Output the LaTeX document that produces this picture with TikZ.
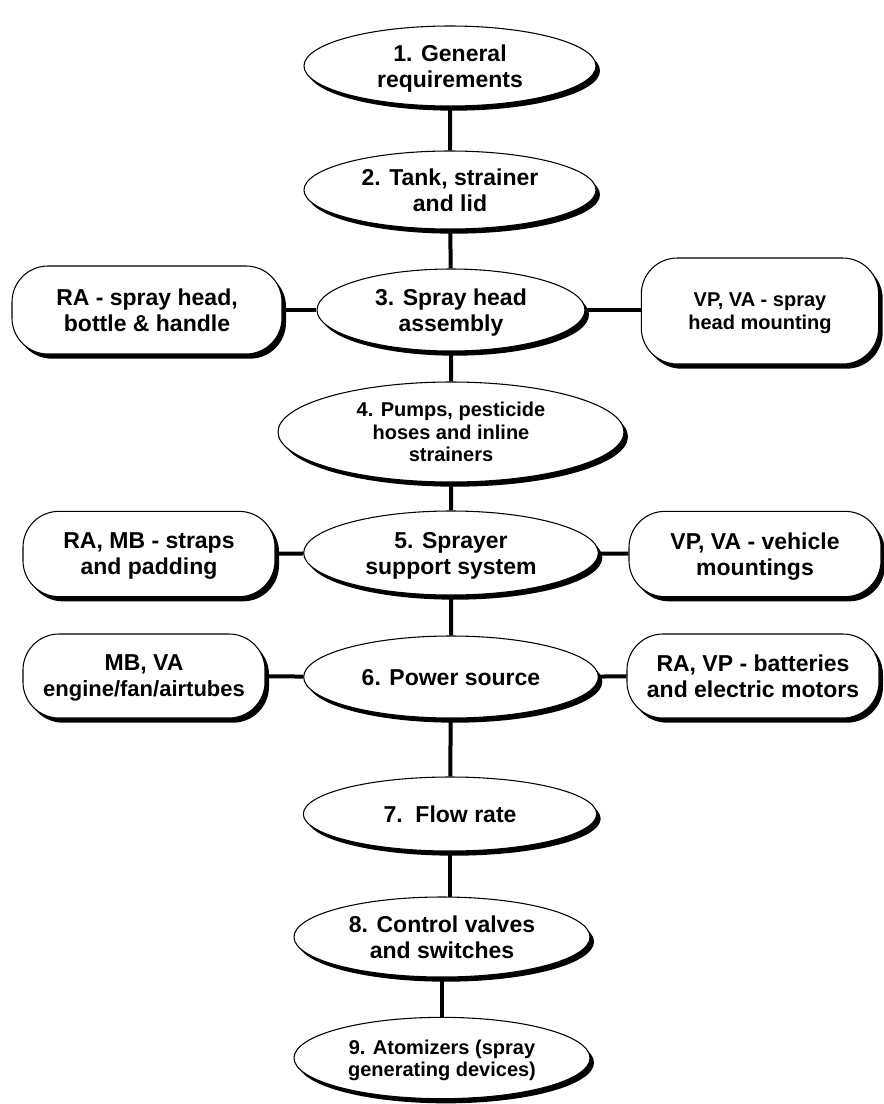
\documentclass[tikz,border=0pt]{standalone}
\usepackage{fontspec}
\setmainfont{Liberation Sans}
\usepackage{tikz}
\usetikzlibrary{shapes,shadows,backgrounds}
\newcommand{\txtL}{\fontsize{17.25}{19.5}\selectfont\bfseries}
\newcommand{\txtS}{\fontsize{15}{16.8}\selectfont\bfseries}

\begin{document}
\begin{tikzpicture}[x=0.75pt,y=-0.75pt,
    box/.style={draw,fill=white,line width=0.8pt,align=center,inner sep=0pt,font=\txtL,
        text depth=-4pt,
        drop shadow={shadow xshift=3pt,shadow yshift=-3.5pt,fill=black,opacity=1}},
    oval/.style={box,ellipse},
    side/.style={box,rectangle,rounded corners=27pt},
    small/.style={font=\txtS},
    oneline/.style={text depth=0pt},
    link/.style={line width=3pt}]
    \useasboundingbox (0,0) rectangle (884,1104);

    % Main column
    \node[oval,minimum width=219pt,minimum height=60pt] (e1) at (450,66) {1. General\\requirements};
    \node[oval,minimum width=219pt,minimum height=58.5pt] (e2) at (450,190) {2. Tank, strainer\\and lid};
    \node[oval,minimum width=201pt,minimum height=61.5pt] (e3) at (451,310) {3. Spray head\\assembly};
    \node[oval,small,minimum width=259.5pt,minimum height=75pt] (e4) at (451,432) {4. Pumps, pesticide\\hoses and inline\\strainers};
    \node[oval,minimum width=221pt,minimum height=63pt] (e5) at (451,553) {5. Sprayer\\support system};
    \node[oval,oneline,minimum width=221pt,minimum height=61.5pt] (e6) at (451,677) {6. Power source};
    \node[oval,oneline,minimum width=220pt,minimum height=55.5pt] (e7) at (450,814) {7.\ \ Flow rate};
    \node[oval,minimum width=222pt,minimum height=60pt] (e8) at (442,937) {8. Control valves\\and switches};
    \node[oval,small,minimum width=222pt,minimum height=61pt] (e9) at (442,1058) {9. Atomizers (spray\\generating devices)};

    % Side boxes
    \node[side,minimum width=202.5pt,minimum height=66pt] (b3l) at (147,310) {RA - spray head,\\bottle \& handle};
    \node[side,small,minimum width=178pt,minimum height=79.5pt] (b3r) at (760,311) {VP, VA - spray\\head mounting};
    \node[side,minimum width=189pt,minimum height=64pt] (b5l) at (149,554) {RA, MB - straps\\and padding};
    \node[side,minimum width=189pt,minimum height=64pt] (b5r) at (755,554) {VP, VA - vehicle\\mountings};
    \node[side,minimum width=181.5pt,minimum height=63pt] (b6l) at (144,676) {MB, VA\\{\fontsize{16.5}{19.5}\selectfont engine/fan/airtubes}};
    \node[side,minimum width=189pt,minimum height=63pt] (b6r) at (753,676) {RA, VP - batteries\\and electric motors};

    % Links
    \begin{scope}[on background layer]
        \draw[link] (e1) -- (e2) -- (e3) -- (e4) -- (e5) -- (e6) -- (e7);
        \draw[link] (e7) -- (e7 |- e8);
        \draw[link] (e8) -- (e9);
        \draw[link] (b3l) -- (e3) -- (e3 -| b3r);
        \draw[link] (b5l) -- (e5) -- (b5r);
        \draw[link] (b6l) -- (e6) -- (b6r);
    \end{scope}
\end{tikzpicture}
\end{document}
